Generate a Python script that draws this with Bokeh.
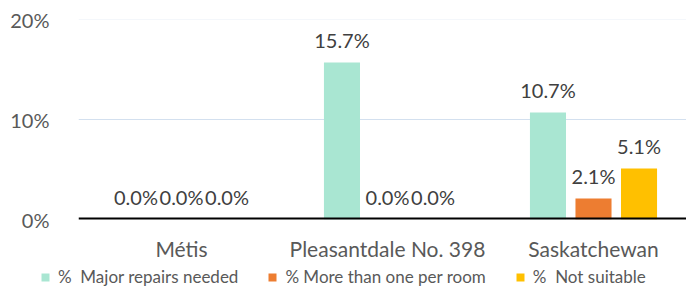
from bokeh.plotting import figure
from bokeh.layouts import column
from bokeh.models import (Range1d, FixedTicker, PrintfTickFormatter, Span,
                          Legend, LegendItem, ColumnDataSource)
from bokeh.embed import file_html
from bokeh.resources import INLINE
from bokeh.core.properties import value

categories = ["Métis", "Pleasantdale No. 398", "Saskatchewan"]
series_names = ["%  Major repairs needed", "% More than one per room", "%  Not suitable"]
major_repairs = [0.0, 15.7, 10.7]
more_than_one = [0.0, 0.0, 2.1]
not_suitable = [0.0, 0.0, 5.1]
y_ticks = [0, 10, 20]
colors = ["#A9E6D2", "#ED7D31", "#FFC000"]

FONT = "Lato"
AXIS_COLOR = "#595959"
LABEL_COLOR = "#404040"

centers = [i + 0.5 for i in range(len(categories))]

p = figure(x_range=Range1d(0, 608 / 206), y_range=Range1d(0, 20),
           width=686, height=265, output_backend="svg", toolbar_location=None,
           min_border_left=78, min_border_right=0, min_border_top=19, min_border_bottom=46)
p.outline_line_color = None
p.frame_align = False

# axes
p.yaxis.ticker = FixedTicker(ticks=y_ticks)
p.yaxis.formatter = PrintfTickFormatter(format="%d%%")
p.yaxis.axis_line_color = None
p.yaxis.major_tick_line_color = None
p.yaxis.minor_tick_line_color = None
p.yaxis.major_label_standoff = 23
p.yaxis.major_label_text_font = FONT
p.yaxis.major_label_text_font_size = "20px"
p.yaxis.major_label_text_color = AXIS_COLOR

p.xaxis.ticker = FixedTicker(ticks=centers)
p.xaxis.major_label_overrides = {c: name for c, name in zip(centers, categories)}
p.xaxis.axis_line_color = None
p.xaxis.major_tick_line_color = None
p.xaxis.minor_tick_line_color = None
p.xaxis.major_label_standoff = 10
p.xaxis.major_label_text_font = FONT
p.xaxis.major_label_text_font_size = "21px"
p.xaxis.major_label_text_color = AXIS_COLOR

p.xgrid.grid_line_color = None
p.ygrid.ticker = FixedTicker(ticks=[10])
p.ygrid.grid_line_color = "#d3e0ef"
p.ygrid.grid_line_width = 1
p.add_layout(Span(location=20, dimension="width", line_color="#e9eff7", line_width=1))

series = [major_repairs, more_than_one, not_suitable]
offsets = [-0.221, 0.0, 0.221]
for name, vals, col, off in zip(series_names, series, colors, offsets):
    src = ColumnDataSource(dict(x=[c + off for c in centers], val=vals,
                                lbl=["%.1f%%" % v for v in vals]))
    p.vbar(x="x", top="val", width=0.175, source=src, fill_color=col, line_color=None)
    p.text(x="x", y="val", text="lbl", source=src,
           text_align="center", text_baseline="alphabetic", y_offset=-23,
           text_font=value(FONT), text_font_size="20px", text_color=LABEL_COLOR)

p.add_layout(Span(location=0, dimension="width", line_color="black", line_width=4))

# legend strip
lg = figure(x_range=Range1d(0, 1), y_range=Range1d(0, 1), width=686, height=22,
            output_backend="svg", toolbar_location=None,
            x_axis_type=None, y_axis_type=None,
            min_border_left=0, min_border_right=0, min_border_top=0, min_border_bottom=0)
lg.frame_align = False
lg.grid.visible = False
lg.outline_line_color = None
items = []
for name, col in zip(series_names, colors):
    r = lg.vbar(x=[0.5], top=[0], bottom=[0], width=0.0, fill_color=col, line_color=None)
    items.append(LegendItem(label=name, renderers=[r]))
legend = Legend(items=items, location=(40, 0), orientation="horizontal",
                glyph_width=10, glyph_height=10, label_standoff=8, spacing=29,
                label_height=17, padding=0, margin=0, border_line_color=None,
                background_fill_alpha=0, label_text_font=FONT,
                label_text_font_size="17px", label_text_color=AXIS_COLOR)
lg.add_layout(legend, "center")

open("out.html", "w").write(file_html(column(p, lg, spacing=0), INLINE))
